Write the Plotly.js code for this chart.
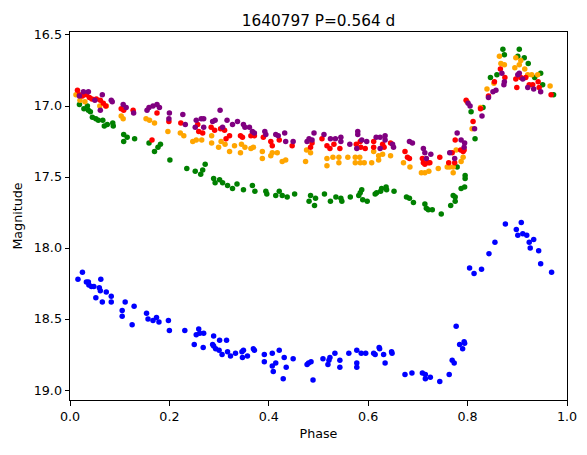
<!DOCTYPE html>
<html>
<head>
<meta charset="utf-8">
<script src="https://cdn.plot.ly/plotly-3.0.1.min.js"></script>
<style>html,body{margin:0;padding:0;background:#fff;}#chart{width:587px;height:455px;}</style>
</head>
<body>
<div id="chart"></div>
<script>
const titleText = "1640797 P=0.564 d";
const xLabel = "Phase";
const yLabel = "Magnitude";
const xTicks = [0.0, 0.2, 0.4, 0.6, 0.8, 1.0];
const yTicks = [16.5, 17.0, 17.5, 18.0, 18.5, 19.0];

const bluePhase = [0.016,0.025,0.033,0.037,0.038,0.043,0.048,0.052,0.059,0.062,0.061,0.065,0.073,0.083,0.083,0.105,0.105,0.111,0.125,0.129,0.154,0.157,0.167,0.174,0.179,0.198,0.200,0.231,0.259,0.254,0.261,0.269,0.250,0.268,0.289,0.301,0.315,0.287,0.289,0.293,0.300,0.306,0.317,0.323,
0.333,0.346,0.349,0.347,0.357,0.369,0.371,0.391,0.391,0.407,0.407,0.414,0.409,0.421,0.431,0.435,0.429,0.449,0.477,0.480,0.485,0.489,0.509,0.519,0.521,0.523,0.533,0.543,0.543,0.561,0.577,0.577,0.577,0.586,0.595,0.611,0.614,0.622,0.623,0.631,0.634,0.647,0.648,0.674,
0.688,0.709,0.715,0.715,0.725,0.744,0.763,0.769,0.773,0.777,0.784,0.790,0.793,0.794,0.804,0.813,0.828,0.843,0.855,0.876,0.898,0.901,0.908,0.911,0.919,0.924,0.926,0.933,0.943,0.947,0.969];
const blueMag = [18.22,18.17,18.24,18.24,18.26,18.27,18.27,18.35,18.28,18.22,18.30,18.38,18.31,18.34,18.38,18.44,18.48,18.38,18.54,18.41,18.46,18.50,18.51,18.49,18.52,18.51,18.58,18.58,18.57,18.61,18.60,18.60,18.68,18.70,18.62,18.65,18.65,18.68,18.69,18.71,18.72,18.75,18.73,18.76,
18.74,18.73,18.72,18.77,18.76,18.71,18.72,18.75,18.80,18.74,18.83,18.81,18.87,18.72,18.77,18.84,18.92,18.78,18.82,18.81,18.80,18.93,18.78,18.82,18.79,18.77,18.74,18.79,18.84,18.74,18.72,18.81,18.84,18.74,18.74,18.74,18.75,18.70,18.71,18.75,18.81,18.73,18.74,18.89,
18.88,18.88,18.89,18.92,18.91,18.94,18.89,18.79,18.81,18.55,18.68,18.71,18.66,18.67,18.14,18.18,18.15,18.04,17.96,17.83,17.87,17.91,17.82,17.90,17.91,17.96,18.00,17.94,18.02,18.11,18.17];

const greenPhase = [0.019,0.028,0.035,0.037,0.041,0.045,0.052,0.057,0.066,0.069,0.075,0.086,0.087,0.108,0.108,0.115,0.130,0.159,0.177,0.182,0.170,0.201,0.235,
0.252,0.263,0.267,0.272,0.289,0.292,0.301,0.307,0.317,0.327,0.336,0.349,0.367,0.372,0.394,0.396,0.414,0.421,0.427,0.437,0.452,0.484,0.481,0.494,
0.492,0.512,0.524,0.535,0.545,0.547,0.564,0.581,0.584,0.587,0.589,0.598,0.614,0.617,0.625,0.627,0.636,0.637,0.652,0.677,0.683,0.691,0.714,0.717,
0.721,0.729,0.747,0.766,0.771,0.775,0.775,0.787,0.794,0.795,0.795,0.779,0.815,0.807,0.831,
0.871,0.874,0.904,0.901,0.914,0.922,0.846,0.859,0.947,0.935,0.951,0.973];
const greenMag = [16.99,17.02,17.00,17.03,17.04,17.08,17.09,17.10,17.10,17.14,17.13,17.12,17.14,17.20,17.25,17.22,17.23,17.26,17.29,17.27,17.32,17.38,17.44,
17.46,17.48,17.45,17.41,17.51,17.54,17.52,17.54,17.56,17.58,17.55,17.59,17.56,17.60,17.60,17.62,17.63,17.60,17.63,17.64,17.62,17.63,17.67,17.65,
17.70,17.62,17.67,17.64,17.65,17.67,17.64,17.63,17.61,17.59,17.66,17.67,17.62,17.61,17.60,17.58,17.57,17.59,17.60,17.64,17.65,17.68,17.69,17.72,
17.73,17.73,17.76,17.70,17.63,17.64,17.67,17.58,17.57,17.49,17.51,17.43,17.23,17.04,17.01,
16.60,16.64,16.60,16.65,16.66,16.70,16.80,16.78,16.77,16.80,16.85,16.92];

const orangePhase = [0.012,0.020,0.030,0.060,0.073,0.103,0.107,0.153,0.160,0.170,0.197,0.222,0.229,
0.247,0.254,0.265,0.285,0.285,0.299,0.304,0.312,0.321,0.331,0.343,0.345,0.352,0.364,0.369,0.387,0.387,0.404,0.407,0.417,0.427,0.434,0.474,0.476,0.484,
0.517,0.517,0.529,0.541,0.541,0.559,0.574,0.583,0.574,0.584,0.592,0.607,0.611,0.621,0.621,0.629,0.645,0.671,0.684,0.707,0.714,
0.722,0.741,0.759,0.764,0.771,0.771,0.777,0.787,0.791,0.809,0.799,
0.864,0.867,0.874,0.897,0.907,0.904,0.895,0.915,0.921,0.929,0.941,0.853,0.839,0.966,0.826];
const orangeMag = [16.92,16.96,16.97,17.00,17.00,17.07,17.09,17.09,17.10,17.12,17.18,17.19,17.21,
17.25,17.24,17.24,17.21,17.26,17.29,17.25,17.27,17.32,17.28,17.33,17.27,17.29,17.30,17.29,17.37,17.32,17.35,17.33,17.33,17.39,17.38,17.39,17.31,17.33,
17.37,17.42,17.36,17.36,17.40,17.36,17.36,17.36,17.40,17.40,17.40,17.40,17.32,17.35,17.38,17.34,17.35,17.40,17.43,17.47,17.47,
17.46,17.44,17.43,17.43,17.47,17.43,17.31,17.39,17.36,17.16,16.97,
16.65,16.70,16.71,16.66,16.68,16.71,16.73,16.74,16.78,16.78,16.78,16.84,16.88,16.86,17.01];

const redPhase = [0.015,0.019,0.025,0.033,0.039,0.044,0.053,0.061,0.067,0.072,0.103,0.108,0.127,0.165,0.175,0.199,0.223,
0.257,0.259,0.267,0.284,0.291,0.303,0.311,0.314,0.321,0.343,0.347,0.364,0.371,0.389,0.404,0.407,0.421,0.447,0.484,0.487,
0.507,0.517,0.523,0.531,0.543,0.576,0.584,0.585,0.594,0.611,0.611,0.629,0.632,0.645,0.674,0.679,0.683,0.711,0.714,0.721,
0.709,0.724,0.744,0.762,0.769,0.774,0.775,0.786,0.791,0.793,0.811,0.797,0.842,
0.866,0.875,0.854,0.897,0.907,0.917,0.924,0.931,0.942,0.899,0.944,0.968,0.826];
const redMag = [16.89,16.92,16.93,16.92,16.94,16.95,16.95,16.96,16.98,17.00,17.02,17.03,17.03,17.24,17.05,17.11,17.12,
17.13,17.18,17.19,17.15,17.17,17.16,17.17,17.23,17.21,17.21,17.22,17.21,17.21,17.22,17.25,17.28,17.24,17.28,17.29,17.26,
17.23,17.28,17.30,17.27,17.30,17.27,17.25,17.29,17.30,17.25,17.29,17.27,17.29,17.26,17.32,17.36,17.37,17.40,17.41,17.40,
17.37,17.40,17.36,17.40,17.33,17.40,17.24,17.31,17.32,17.31,17.11,16.96,16.93,
16.74,16.80,16.83,16.81,16.80,16.80,16.85,16.85,16.83,16.87,16.87,16.92,17.02];

const purplePhase = [0.019,0.027,0.037,0.050,0.065,0.061,0.083,0.085,0.107,0.113,0.128,0.155,0.159,0.167,0.175,0.180,0.200,0.199,0.227,0.232,
0.302,0.252,0.254,0.264,0.269,0.269,0.287,0.292,0.316,0.307,0.327,0.337,0.349,0.352,0.361,0.367,0.371,0.392,0.394,0.414,0.419,0.432,0.434,0.449,0.477,0.481,
0.491,0.487,0.511,0.524,0.534,0.545,0.545,0.563,0.579,0.579,0.587,0.597,0.616,0.624,0.634,0.634,0.649,0.651,0.577,0.624,0.683,0.689,0.711,0.714,0.717,
0.726,0.764,0.779,0.787,0.794,0.793,0.774,0.805,0.801,0.814,0.851,
0.869,0.874,0.873,0.901,0.904,0.911,0.921,0.933,0.947,0.857,0.842,0.829];
const purpleMag = [16.93,16.90,16.90,16.96,16.92,17.03,16.96,16.97,16.99,17.01,17.05,17.03,17.01,17.00,16.99,17.01,17.05,17.09,17.06,17.13,
17.03,17.15,17.10,17.09,17.09,17.15,17.11,17.10,17.10,17.15,17.13,17.11,17.13,17.15,17.15,17.18,17.19,17.18,17.20,17.20,17.21,17.19,17.25,17.25,17.25,17.23,
17.19,17.24,17.20,17.23,17.23,17.22,17.25,17.27,17.18,17.20,17.24,17.25,17.22,17.22,17.21,17.24,17.27,17.29,17.30,17.30,17.25,17.26,17.30,17.33,17.37,
17.34,17.33,17.19,17.24,17.26,17.29,17.37,17.00,16.98,17.16,16.90,
16.77,16.83,16.85,16.78,16.77,16.81,16.87,16.88,16.90,16.89,16.94,17.07];

const series = [
  {x: bluePhase, y: blueMag, color: 'blue'},
  {x: greenPhase, y: greenMag, color: 'green'},
  {x: orangePhase, y: orangeMag, color: 'orange'},
  {x: redPhase, y: redMag, color: 'red'},
  {x: purplePhase, y: purpleMag, color: 'purple'}
];

const font = "DejaVu Sans, sans-serif";
const traces = series.map(s => ({
  type: 'scatter', mode: 'markers', x: s.x, y: s.y,
  marker: {color: s.color, size: 5.5, line: {width: 0}},
  hoverinfo: 'skip', showlegend: false
}));

const axisCommon = {
  showgrid: false, zeroline: false, showline: true, mirror: true,
  linecolor: 'black', linewidth: 1, ticks: 'outside', ticklen: 4.5,
  tickwidth: 1, tickcolor: 'black', tickformat: '.1f',
  tickfont: {family: font, size: 12.7, color: 'black'}
};

const layout = {
  width: 587, height: 455,
  margin: {l: 70, r: 20, t: 32, b: 55},
  paper_bgcolor: 'white', plot_bgcolor: 'white',
  font: {family: font, color: 'black'},
  title: {text: titleText, font: {family: font, size: 15.3, color: 'black'},
          x: 0.5, xref: 'paper', y: 1, yref: 'paper', yanchor: 'bottom', pad: {b: 6}},
  xaxis: Object.assign({}, axisCommon, {
    range: [0, 1], tickvals: xTicks,
    title: {text: xLabel, font: {family: font, size: 12.7, color: 'black'}, standoff: 6}
  }),
  yaxis: Object.assign({}, axisCommon, {
    range: [19.07, 16.479], tickvals: yTicks,
    title: {text: yLabel, font: {family: font, size: 12.7, color: 'black'}, standoff: 8}
  })
};

Plotly.newPlot('chart', traces, layout, {staticPlot: true, displayModeBar: false});
</script>
</body>
</html>
